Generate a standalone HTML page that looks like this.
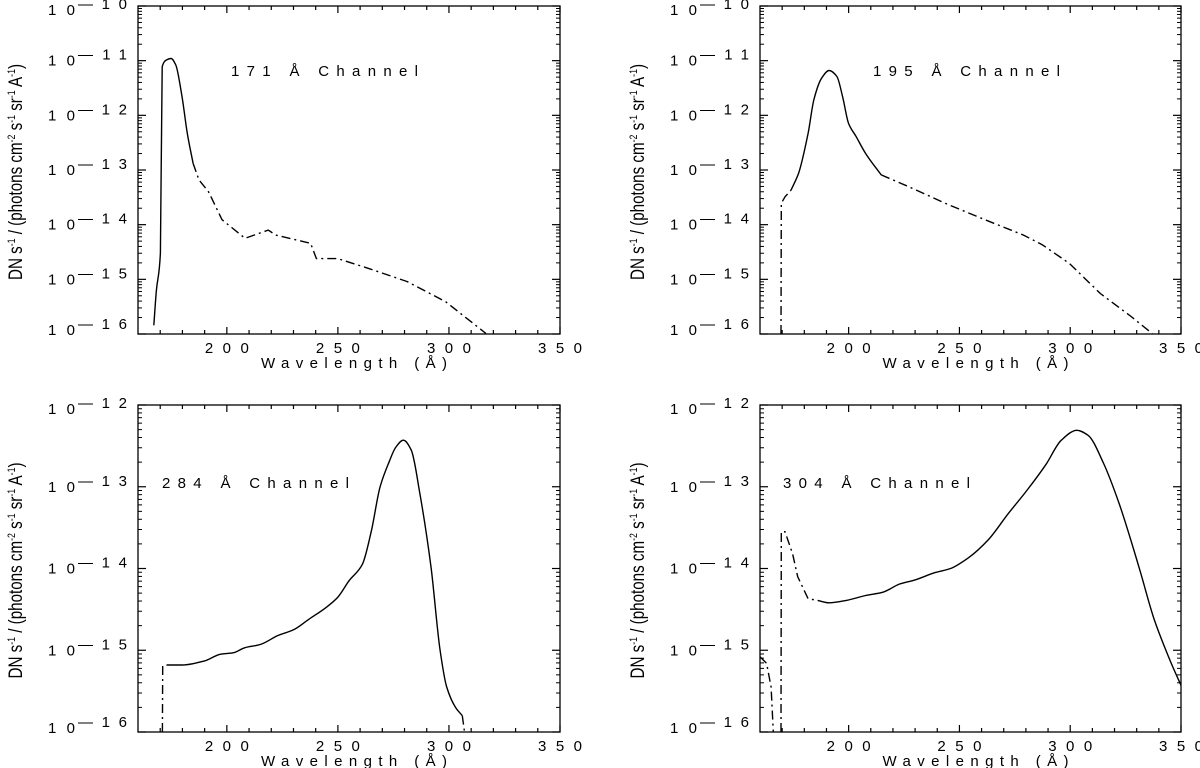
<!DOCTYPE html>
<html><head><meta charset="utf-8"><title>Channel response</title>
<style>
html,body{margin:0;padding:0;background:#fff;}
svg{display:block;font-family:"Liberation Sans",sans-serif;}
</style></head>
<body>
<svg id="chart" width="1200" height="768" viewBox="0 0 1200 768" xmlns="http://www.w3.org/2000/svg"></svg>
<script>
// ---- data (wavelength in Å, log10 of response) ----
const xTicks = [200, 250, 300, 350];
const ch171SolidX = [167.1, 168.3, 170.1, 170.9, 172.7, 174.9, 177.0, 179.6, 182.2, 184.8];
const ch171SolidY = [-15.84, -15.2, -14.52, -11.11, -10.99, -10.96, -11.08, -11.6, -12.33, -12.88];
const ch171DashX = [184.8, 187.4, 191.8, 197.8, 208.2, 218.6, 222.1, 237.7, 240.3, 249.9, 263.8, 281.1, 298.5, 316.7];
const ch171DashY = [-12.88, -13.18, -13.4, -13.91, -14.25, -14.1, -14.19, -14.34, -14.62, -14.62, -14.8, -15.04, -15.41, -15.99];

const ch195DashAX = [169.5, 169.6, 171.3, 174.0];
const ch195DashAY = [-16.0, -13.61, -13.49, -13.37];
const ch195SolidX = [174.0, 177.4, 181.7, 184.3, 187.8, 191.2, 194.7, 197.3, 200.0, 203.4, 207.7, 214.7];
const ch195SolidY = [-13.37, -13.06, -12.33, -11.72, -11.32, -11.18, -11.29, -11.66, -12.15, -12.39, -12.7, -13.09];
const ch195DashX = [214.7, 226.8, 237.2, 244.2, 261.5, 278.9, 287.5, 299.7, 313.6, 327.5, 337.0];
const ch195DashY = [-13.09, -13.3, -13.49, -13.62, -13.91, -14.19, -14.37, -14.71, -15.26, -15.68, -15.99];

const ch284DashAX = [171.0, 171.1, 173.0];
const ch284DashAY = [-16.0, -15.19, -15.18];
const ch284SolidX = [173, 180, 190, 197, 203, 208, 215, 223, 230, 237, 245, 250, 255, 261, 265, 269, 273, 276, 279.5, 283, 287, 292, 296, 299, 303, 306];
const ch284SolidY = [-15.18, -15.18, -15.13, -15.05, -15.03, -14.97, -14.93, -14.82, -14.75, -14.62, -14.47, -14.35, -14.15, -13.95, -13.55, -13.0, -12.7, -12.52, -12.43, -12.55, -13.1, -14.0, -15.0, -15.45, -15.7, -15.8];
const ch284DashBX = [306, 307];
const ch284DashBY = [-15.8, -16.0];

const ch304DashAX = [160.0, 163.0, 165.0, 166.0];
const ch304DashAY = [-15.08, -15.16, -15.45, -16.0];
const ch304DashBX = [169.5, 169.6, 171.3, 174.7, 177.0, 181.7, 186.0];
const ch304DashBY = [-16.0, -13.55, -13.55, -13.82, -14.1, -14.37, -14.39];
const ch304SolidX = [186.0, 191.2, 199.0, 207.7, 215.5, 223.0, 230.0, 239.0, 246.0, 254.5, 263.0, 272.0, 280.6, 289.0, 296.0, 303.0, 308.0, 315.0, 322.0, 331.0, 338.0, 345.0, 350.0];
const ch304SolidY = [-14.39, -14.42, -14.39, -14.33, -14.29, -14.19, -14.14, -14.05, -14.0, -13.86, -13.65, -13.33, -13.04, -12.73, -12.43, -12.31, -12.37, -12.71, -13.2, -13.98, -14.63, -15.12, -15.43];

const NS = "http://www.w3.org/2000/svg";
const svg = document.getElementById("chart");
function mk(tag, attrs, parent){
  const e = document.createElementNS(NS, tag);
  for (const k in attrs) e.setAttribute(k, attrs[k]);
  (parent || svg).appendChild(e);
  return e;
}
const DASHDOT = "9,4,2,4";

// monotone cubic (Fritsch-Carlson) in screen coords, x increasing
function monotonePath(pts){
  const n = pts.length;
  if (n < 3) return pts.map((p, i) => (i ? "L" : "M") + p[0].toFixed(1) + "," + p[1].toFixed(1)).join(" ");
  const dx = [], sl = [], m = [];
  for (let i = 0; i < n - 1; i++) { dx[i] = pts[i + 1][0] - pts[i][0]; sl[i] = (pts[i + 1][1] - pts[i][1]) / dx[i]; }
  m[0] = sl[0]; m[n - 1] = sl[n - 2];
  for (let i = 1; i < n - 1; i++) {
    if (sl[i - 1] * sl[i] <= 0) m[i] = 0;
    else { const w1 = 2 * dx[i] + dx[i - 1], w2 = dx[i] + 2 * dx[i - 1]; m[i] = (w1 + w2) / (w1 / sl[i - 1] + w2 / sl[i]); }
  }
  let d = "M" + pts[0][0].toFixed(1) + "," + pts[0][1].toFixed(1);
  for (let i = 0; i < n - 1; i++) {
    const h = dx[i] / 3;
    d += " C" + (pts[i][0] + h).toFixed(1) + "," + (pts[i][1] + m[i] * h).toFixed(1) + " " +
         (pts[i + 1][0] - h).toFixed(1) + "," + (pts[i + 1][1] - m[i + 1] * h).toFixed(1) + " " +
         pts[i + 1][0].toFixed(1) + "," + pts[i + 1][1].toFixed(1);
  }
  return d;
}

function panel(cfg){
  const g = mk("g", {});
  
  
  const L = cfg.left, R = cfg.right, T = cfg.top, B = cfg.bottom;
  const xMin = 160, xMax = 350;
  const xs = v => L + (v - xMin) / (xMax - xMin) * (R - L);
  const ys = v => T + (cfg.yTop - v) / (cfg.yTop - cfg.yBot) * (B - T);

  const frame = mk("rect", {x: L, y: T, width: R - L, height: B - T, fill: "none", stroke: "#000", "stroke-width": 1.3}, g);
  
  

  for (let v = 170; v <= 350; v += 10) {
    const major = v % 50 === 0;
    const len = major ? 7 : 4;
    const x = xs(v);
    mk("line", {x1: x, y1: B, x2: x, y2: B - len, stroke: "#000", "stroke-width": 1.2}, g);
    mk("line", {x1: x, y1: T, x2: x, y2: T + len, stroke: "#000", "stroke-width": 1.2}, g);
  }
  xTicks.forEach(v => {
    const t = mk("text", {x: xs(v) - 22, y: B + 19, "font-size": 15, textLength: 44, lengthAdjust: "spacing"}, g);
    t.textContent = String(v);
    
    
  });
  const xt = mk("text", {x: (L + R) / 2 + 5 - 93, y: B + 34, "font-size": 15, textLength: 186, lengthAdjust: "spacing"}, g);
  xt.textContent = "Wavelength (Å)";
  
  

  for (let d = cfg.yBot; d <= cfg.yTop; d++) {
    const y = ys(d);
    mk("line", {x1: L, y1: y, x2: L + 8, y2: y, stroke: "#000", "stroke-width": 1.2}, g);
    mk("line", {x1: R, y1: y, x2: R - 8, y2: y, stroke: "#000", "stroke-width": 1.2}, g);
    if (d < cfg.yTop) {
      for (let m = 2; m <= 9; m++) {
        const ym = ys(d + Math.log10(m));
        mk("line", {x1: L, y1: ym, x2: L + 4, y2: ym, stroke: "#000", "stroke-width": 1}, g);
        mk("line", {x1: R, y1: ym, x2: R - 4, y2: ym, stroke: "#000", "stroke-width": 1}, g);
      }
    }
    const base = Math.max(T + 9, Math.min(B + 1, y + 5));
    const lb = mk("text", {x: L - 90, y: base, "font-size": 15, textLength: 27, lengthAdjust: "spacing"}, g);
    lb.textContent = "10";
    
    
    const ex = mk("text", {x: L - 60, y: base - 6, "font-size": 15, textLength: 49, lengthAdjust: "spacing"}, g);
    ex.textContent = "—" + String(-d);
    
    
  }

  const cy = (T + B) / 2 + 2;
  const yt = mk("text", {x: 0, y: 0, "font-size": 19, "text-anchor": "middle", textLength: 216, lengthAdjust: "spacingAndGlyphs", transform: `translate(${L - 116},${cy}) rotate(-90)`}, g);
  yt.innerHTML = 'DN s<tspan dy="-7" font-size="11">-1</tspan><tspan dy="7"> / (photons cm</tspan><tspan dy="-7" font-size="11">-2</tspan><tspan dy="7"> s</tspan><tspan dy="-7" font-size="11">-1</tspan><tspan dy="7"> sr</tspan><tspan dy="-7" font-size="11">-1</tspan><tspan dy="7"> A</tspan><tspan dy="-7" font-size="11">-1</tspan><tspan dy="7">)</tspan>';
  
  

  const cl = mk("text", {x: cfg.labelX, y: cfg.labelY, "font-size": 15, textLength: 187, lengthAdjust: "spacing"}, g);
  cl.textContent = cfg.label;
  
  

  const clipId = cfg.name + "-clip";
  const cp = mk("clipPath", {id: clipId}, g);
  mk("rect", {x: L, y: T, width: R - L, height: B - T}, cp);
  cfg.series.forEach(s => {
    const pts = s.x.map((v, i) => [xs(v), ys(s.y[i])]);
    const d = s.dash ? pts.map((p, i) => (i ? "L" : "M") + p[0].toFixed(1) + "," + p[1].toFixed(1)).join(" ") : monotonePath(pts);
    const p = mk("path", {d: d, fill: "none", stroke: "#000", "stroke-width": 1.4, "stroke-linejoin": "round", "clip-path": `url(#${clipId})`}, g);
    if (s.dash) p.setAttribute("stroke-dasharray", DASHDOT);
    
    
  });
}

panel({name: "panel-171", left: 138, right: 560, top: 6, bottom: 334, yTop: -10, yBot: -16,
  label: "171 Å Channel", labelX: 231, labelY: 76,
  series: [
    {name: "line-171-solid", x: ch171SolidX, y: ch171SolidY, dash: false},
    {name: "line-171-dashdot", x: ch171DashX, y: ch171DashY, dash: true}
  ]});
panel({name: "panel-195", left: 760, right: 1181, top: 6, bottom: 334, yTop: -10, yBot: -16,
  label: "195 Å Channel", labelX: 873, labelY: 76,
  series: [
    {name: "line-195-dashdot-rise", x: ch195DashAX, y: ch195DashAY, dash: true},
    {name: "line-195-solid", x: ch195SolidX, y: ch195SolidY, dash: false},
    {name: "line-195-dashdot-tail", x: ch195DashX, y: ch195DashY, dash: true}
  ]});
panel({name: "panel-284", left: 138, right: 560, top: 405, bottom: 732, yTop: -12, yBot: -16,
  label: "284 Å Channel", labelX: 162, labelY: 488,
  series: [
    {name: "line-284-dashdot-rise", x: ch284DashAX, y: ch284DashAY, dash: true},
    {name: "line-284-solid", x: ch284SolidX, y: ch284SolidY, dash: false},
    {name: "line-284-dashdot-tail", x: ch284DashBX, y: ch284DashBY, dash: true}
  ]});
panel({name: "panel-304", left: 760, right: 1181, top: 405, bottom: 732, yTop: -12, yBot: -16,
  label: "304 Å Channel", labelX: 783, labelY: 488,
  series: [
    {name: "line-304-dashdot-left", x: ch304DashAX, y: ch304DashAY, dash: true},
    {name: "line-304-dashdot-rise", x: ch304DashBX, y: ch304DashBY, dash: true},
    {name: "line-304-solid", x: ch304SolidX, y: ch304SolidY, dash: false}
  ]});
</script>
</body></html>
